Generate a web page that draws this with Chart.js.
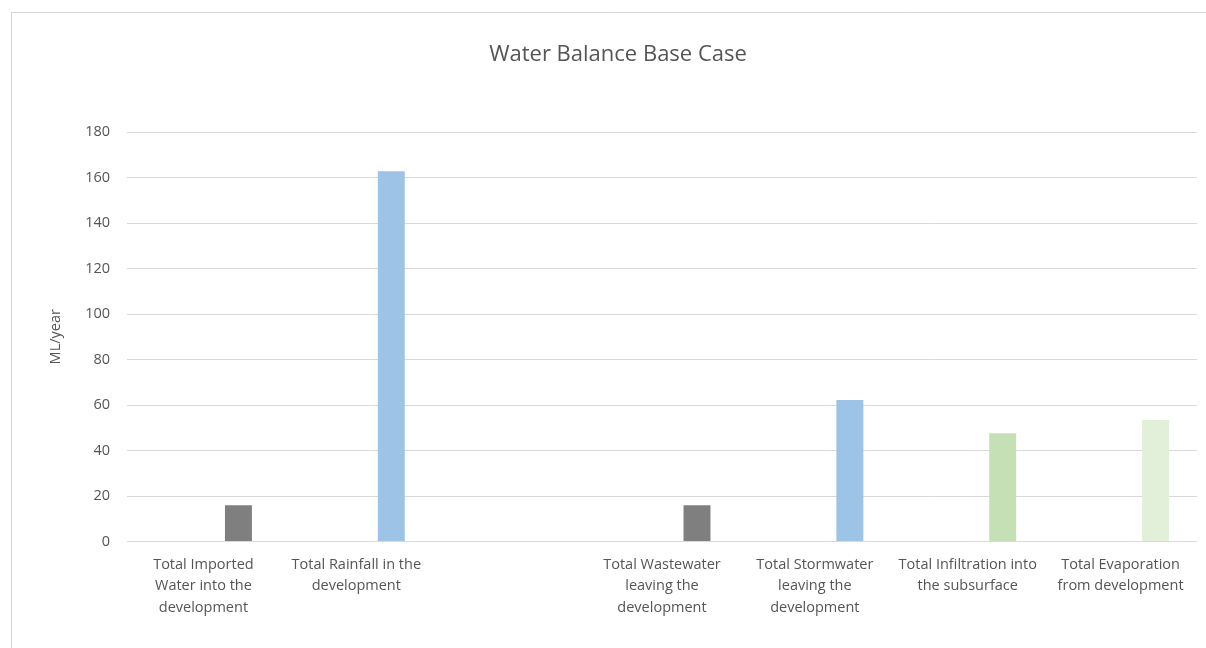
<!DOCTYPE html>
<html>
<head>
<meta charset="utf-8">
<title>Water Balance Base Case</title>
<script src="https://cdn.jsdelivr.net/npm/chart.js@4.4.1/dist/chart.umd.min.js"></script>
<style>
  html, body { margin: 0; padding: 0; background: #ffffff; }
  #wrap { position: absolute; left: 0; top: 0; width: 1206px; height: 648px; }
</style>
</head>
<body>
<div id="wrap"><canvas id="chart" width="1206" height="648"></canvas></div>
<script>
// Water balance categories (blank slot separates inflows from outflows)
const categories = [
  ["Total Imported", "Water into the", "development"],
  ["Total Rainfall in the", "development"],
  "",
  ["Total Wastewater", "leaving the", "development"],
  ["Total Stormwater", "leaving the", "development"],
  ["Total Infiltration into", "the subsurface"],
  ["Total Evaporation", "from development"]
];

// Annual volumes, ML/year
const volumes = [15.9, 162.7, null, 15.9, 62.2, 47.6, 53.4];

// Bar colours per category
const barColors = ["#7f7f7f", "#9dc3e6", "#ffffff", "#7f7f7f", "#9dc3e6", "#c5e0b4", "#e2f0d9"];

// Empty series occupying the first two slots of each cluster
const emptySeries = categories.map(() => null);

// Y-axis tick range
const yMin = 0;
const yMax = 180;
const yStep = 20;

const textColor = "#555555";
const fontFamily = "'Open Sans', 'Noto Sans', sans-serif";

// Thin frame along the top and left edges of the chart object
const framePlugin = {
  id: "frame",
  beforeDraw(chart) {
    const ctx = chart.ctx;
    ctx.save();
    ctx.fillStyle = "#ffffff";
    ctx.fillRect(0, 0, chart.width, chart.height);
    ctx.strokeStyle = "#d4d4d4";
    ctx.lineWidth = 1;
    ctx.beginPath();
    ctx.moveTo(11.5, chart.height);
    ctx.lineTo(11.5, 12.5);
    ctx.lineTo(chart.width, 12.5);
    ctx.stroke();
    ctx.restore();
  }
};

new Chart(document.getElementById("chart"), {
  type: "bar",
  data: {
    labels: categories,
    datasets: [
      { label: "slot1", data: emptySeries, backgroundColor: "#ffffff" },
      { label: "slot2", data: emptySeries, backgroundColor: "#ffffff" },
      { label: "Water Balance", data: volumes, backgroundColor: barColors }
    ]
  },
  options: {
    responsive: false,
    animation: false,
    devicePixelRatio: 1,
    datasets: {
      bar: { categoryPercentage: 0.687, barPercentage: 0.77 }
    },
    layout: { padding: { left: 39, right: 9, top: 14, bottom: 6.5 } },
    plugins: {
      legend: { display: false },
      tooltip: { enabled: false },
      title: {
        display: true,
        text: "Water Balance Base Case",
        color: textColor,
        font: { family: fontFamily, size: 22, weight: "normal" },
        padding: { top: 28, bottom: 63.6 }
      }
    },
    scales: {
      x: {
        grid: { display: false, drawTicks: false },
        border: { display: false },
        ticks: {
          color: textColor,
          font: { family: fontFamily, size: 14.5, lineHeight: 1.48 },
          padding: 12.5,
          maxRotation: 0,
          autoSkip: false
        },
        afterFit(scale) { scale.height = 100; }
      },
      y: {
        min: yMin,
        max: yMax,
        grid: { color: "#d9d9d9", lineWidth: 1, drawTicks: false },
        border: { display: false },
        ticks: {
          stepSize: yStep,
          color: textColor,
          font: { family: fontFamily, size: 14.5 },
          padding: 17
        },
        title: {
          display: true,
          text: "ML/year",
          color: textColor,
          font: { family: fontFamily, size: 14.5 },
          padding: { top: 8, bottom: 0 }
        },
        afterFit(scale) { scale.width = 88; }
      }
    }
  },
  plugins: [framePlugin]
});
</script>
</body>
</html>
